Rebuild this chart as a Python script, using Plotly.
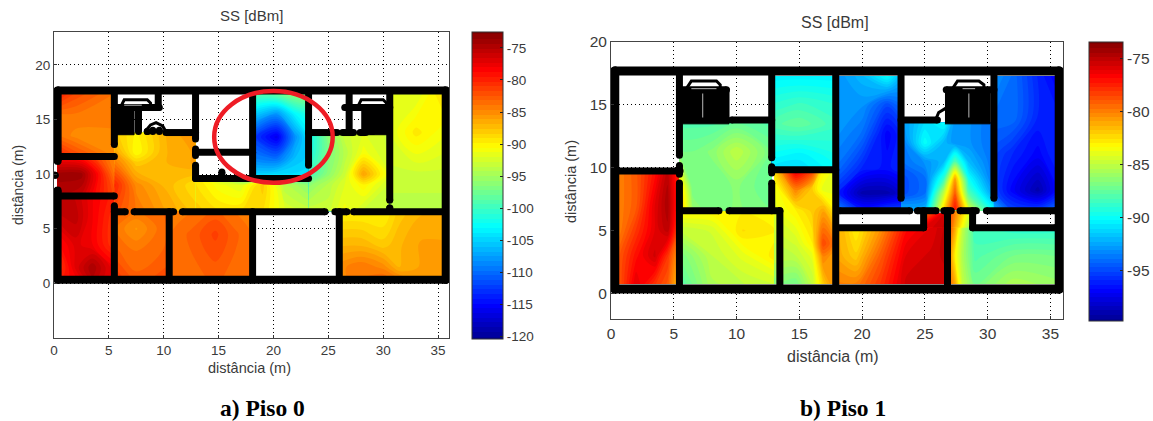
import plotly.graph_objects as go

W, H = 1153, 421
FONT = "Liberation Sans"
TXT = "#3a3a3a"
JET = [[0, "#00008f"], [0.11, "#0000ff"], [0.365, "#00ffff"], [0.625, "#ffff00"], [0.875, "#ff0000"], [1, "#800000"]]

# ---------- Piso 0: measured signal by room (x, y, z rows from bottom to top)
P0_A_X = [0.5, 2, 5.5]
P0_A_Y = [11.8, 13.5, 15.5, 17.3]
P0_A_Z = [[-80, -82, -85], [-84, -85, -85], [-84, -84, -84], [-80, -82, -84]]
P0_B_X = [0.3, 2.5, 3.8, 5.5]
P0_B_Y = [8, 10, 11.7]
P0_B_Z = [[-75, -76, -79, -82], [-74, -74, -78, -84], [-79, -80, -82, -85]]
P0_C_X = [0.5, 2, 3.5, 5.5]
P0_C_Y = [0.6, 1.5, 3.5, 6, 8]
P0_C_Z = [[-80, -78, -75, -78], [-81, -77, -74.5, -78], [-79, -77, -78, -81],
          [-76, -75.5, -78, -81], [-75, -76, -78, -80]]
P0_D1_X = [5.5, 7.5, 10, 12.9]
P0_D1_Y = [6.6, 9, 11, 12, 13.8]
P0_D1_Z = [[-82, -84, -86, -88], [-80, -85, -87, -89], [-84, -88, -87, -86],
           [-86, -90.5, -87, -86], [-88, -90, -87, -85]]
P0_D2_X = [12.4, 12.9, 15, 17, 19, 21, 23.2, 23.7]
P0_D2_Y = [6.6, 9, 9.6]
P0_D2_Z = [[-88, -88, -89, -89, -89, -92, -93, -93], [-89, -89, -91, -92, -88, -94, -96, -96],
           [-89, -89, -93, -98, -98, -99, -100, -100]]
P0_D3_X = [23.2, 25, 26.5, 28.2, 30.6]
P0_D3_Y = [6.6, 9, 10, 12, 13.8]
P0_D3_Z = [[-93, -93, -91, -93, -93], [-96, -94, -92, -90, -93], [-100, -96, -93, -86, -92],
           [-102, -97, -94, -91, -93], [-103, -96, -93, -92, -93]]
P0_E_X = [30.6, 33, 35.4]
P0_E_Y = [6.6, 10, 13.8, 17.3]
P0_E_Z = [[-94, -94, -94], [-93, -93, -93], [-92, -89.5, -91], [-92, -92, -89]]
P0_F_X = [5.5, 7.5, 10.5]
P0_F_Y = [0.6, 3, 5, 6.6]
P0_F_Z = [[-81, -83, -82], [-83, -84, -83], [-84, -85.5, -83], [-83, -84, -83]]
P0_G_X = [10.5, 12.5, 14.7, 16.5, 18.1]
P0_G_Y = [0.6, 4.5, 6.6]
P0_G_Z = [[-84, -83.5, -83, -83.5, -84], [-84, -83, -81.5, -83, -84], [-84, -84, -83, -84, -84]]
P0_H_X = [26, 28, 30, 31.5, 33.5, 35.4]
P0_H_Y = [0.6, 1.5, 3.5, 6.6]
P0_H_Z = [[-85, -84, -83.5, -85, -86, -86], [-85, -84, -85, -87, -86, -86],
          [-87, -87, -88, -87, -86, -86], [-90, -90, -90, -88, -87, -87]]
P0_I_X = [18.1, 20.3, 22, 23.2]
P0_I_Y = [9.6, 11.5, 13.4, 15.5, 17.3]
P0_I_Z = [[-104, -103, -104, -104], [-109, -110, -106, -105], [-112, -116, -108, -104],
          [-105, -108, -103, -101], [-99, -98, -96, -96]]
P0_ROOMS = [(P0_A_X, P0_A_Y, P0_A_Z), (P0_B_X, P0_B_Y, P0_B_Z), (P0_C_X, P0_C_Y, P0_C_Z),
            (P0_D2_X, P0_D2_Y, P0_D2_Z), (P0_D1_X, P0_D1_Y, P0_D1_Z), (P0_D3_X, P0_D3_Y, P0_D3_Z),
            (P0_E_X, P0_E_Y, P0_E_Z), (P0_F_X, P0_F_Y, P0_F_Z), (P0_G_X, P0_G_Y, P0_G_Z),
            (P0_H_X, P0_H_Y, P0_H_Z), (P0_I_X, P0_I_Y, P0_I_Z)]

# ---------- Piso 1
P1_A_X = [0.6, 2, 3.5, 4.5, 5.45]
P1_A_Y = [0.77, 3, 5, 7, 9.6]
P1_A_Z = [[-79, -76, -78, -79, -82], [-79, -77, -75.5, -78, -81], [-80, -78, -76, -75, -79],
          [-80, -79, -76, -74.5, -78], [-80, -79, -77, -75, -78]]
P1_B_X = [5.45, 6.5, 8, 10, 12.8]
P1_B_Y = [6.6, 8.5, 11.3, 13.6]
P1_B_Z = [[-81, -86, -87, -86.5, -87], [-82, -87, -87, -86.5, -87.5],
          [-87, -87, -86.5, -85, -87], [-88, -88, -88, -87.5, -88]]
P1_C_X = [5.45, 8, 10.5, 13.45]
P1_C_Y = [0.77, 3, 5, 6.6]
P1_C_Z = [[-88, -85.5, -85, -84.5], [-87, -85, -84, -82.5], [-85, -84.5, -82.5, -83], [-83, -83, -83, -83]]
P1_D_X = [12.8, 15, 17.9]
P1_D_Y = [9.85, 11, 13.5, 15, 17.3]
P1_D_Z = [[-91, -91, -90], [-90, -90.5, -89.5], [-88, -87.5, -88.5], [-89, -88.5, -89], [-90.5, -90.5, -90.5]]
P1_E_X = [13.0, 14.7, 16, 16.9, 17.9]
P1_E_Y = [0.77, 3, 4, 6.6, 8.3, 9.85]
P1_E_Z = [[-86.5, -87, -85, -82, -80], [-85, -85, -84, -80, -81], [-85, -84.5, -83, -78.5, -80],
          [-84, -83, -82, -81, -83], [-84, -80, -82, -84, -84], [-82, -76, -78, -83, -84]]
P1_F_X = [18.0, 20, 22, 23.1]
P1_F_Y = [6.6, 8, 10, 12.7, 15, 17.3]
P1_F_Z = [[-93, -96, -95, -95], [-96, -99, -99, -98], [-94, -96, -96.5, -96],
          [-93, -94, -97, -96], [-93, -93, -95, -94], [-93, -92, -90, -92]]
P1_G_X = [23.1, 25, 26.5, 27.4, 28.5, 30.5]
P1_G_Y = [6.6, 8, 9.2, 10.5, 12, 13.6]
P1_G_Z = [[-92, -92, -82, -77, -84, -90], [-95, -94, -85, -79, -88, -93], [-95, -94, -89, -81, -90, -94],
          [-94, -93, -92, -88, -92, -94], [-94, -90, -92, -93, -93, -94], [-93, -91, -90, -93, -93, -94]]
P1_H_X = [30.5, 32, 34, 35.35]
P1_H_Y = [6.6, 8.2, 11, 14, 17.3]
P1_H_Z = [[-92, -95, -95, -94], [-95, -97, -99, -97], [-95, -96, -97, -96],
          [-94, -94, -96, -96], [-93, -94, -96, -97]]
P1_I_X = [18.0, 19.5, 21.5, 23.5, 25.5, 26.8]
P1_I_Y = [0.77, 3, 5.25]
P1_I_Z = [[-80, -80, -78, -75.5, -75.5, -75.5], [-81, -82, -79, -76, -75.5, -75], [-81, -83, -80.5, -77, -76, -75]]
P1_J_X = [24.9, 26.8]
P1_J_Y = [5.25, 6.4]
P1_J_Z = [[-76, -75], [-80, -75]]
P1_K_X = [26.8, 27.4, 28, 29, 32, 35.35]
P1_K_Y = [0.77, 3, 5.25]
P1_K_Z = [[-79, -81, -85, -87, -85.5, -86], [-79, -83, -85.5, -88, -87, -87], [-78, -81, -85, -88.5, -89, -89]]
P1_L_X = [26.8, 27.4, 28.8]
P1_L_Y = [5.25, 6.6]
P1_L_Z = [[-78, -81, -87], [-78, -80, -85]]
P1_ROOMS = [(P1_A_X, P1_A_Y, P1_A_Z), (P1_B_X, P1_B_Y, P1_B_Z), (P1_C_X, P1_C_Y, P1_C_Z),
            (P1_D_X, P1_D_Y, P1_D_Z), (P1_E_X, P1_E_Y, P1_E_Z), (P1_F_X, P1_F_Y, P1_F_Z),
            (P1_G_X, P1_G_Y, P1_G_Z), (P1_H_X, P1_H_Y, P1_H_Z), (P1_I_X, P1_I_Y, P1_I_Z),
            (P1_J_X, P1_J_Y, P1_J_Z), (P1_K_X, P1_K_Y, P1_K_Z), (P1_L_X, P1_L_Y, P1_L_Z)]

# ---------- Floor plan walls: segments as (x0, y0, x1, y1)
P0_OUTER = [(0.33, 17.65, 35.7, 17.65), (35.7, 17.65, 35.7, 0.33), (35.7, 0.33, 0.33, 0.33),
            (0.33, 0.33, 0.33, 8.5), (0.33, 11.2, 0.33, 17.65)]
P0_WALLS = [(0.5, 11.6, 5.5, 11.6), (0.5, 8.0, 5.5, 8.0), (5.5, 17.6, 5.5, 12.7), (5.5, 7.1, 5.5, 0.3),
            (5.5, 6.55, 6.5, 6.55), (7.3, 6.55, 10.9, 6.55), (11.7, 6.55, 24.7, 6.55), (25.6, 6.55, 26.7, 6.55),
            (27.3, 6.55, 35.6, 6.55), (10.5, 6.55, 10.5, 0.3), (18.1, 6.55, 18.1, 0.3), (26.0, 6.55, 26.0, 0.3),
            (12.9, 17.6, 12.9, 13.2), (12.9, 12.3, 12.9, 11.7), (12.9, 10.8, 12.9, 9.6), (12.9, 9.6, 23.2, 9.6),
            (12.9, 12.0, 18.1, 12.0), (18.1, 17.6, 18.1, 9.6), (15.3, 10.2, 15.3, 9.6), (23.2, 17.6, 23.2, 10.8),
            (23.2, 13.8, 25.8, 13.8), (26.9, 17.6, 26.9, 13.8), (26.3, 13.8, 27.3, 13.8), (27.9, 13.8, 28.4, 13.8),
            (30.6, 17.6, 30.6, 7.6), (10.2, 13.8, 12.9, 13.8), (9.5, 17.6, 9.5, 16.1), (5.5, 16.1, 9.6, 16.1),
            (7.7, 16.1, 7.7, 13.9), (9.0, 14.0, 9.0, 13.9), (9.6, 14.0, 9.6, 13.9), (8.5, 13.9, 8.5, 13.9),
            (26.5, 16.1, 30.6, 16.1), (29.0, 13.9, 29.0, 13.9), (30.6, 6.9, 30.6, 6.9), (0.1, 9.9, 0.1, 9.9)]
P0_BLOCKS = [([5.6, 7.3, 7.3, 5.6], [13.6, 13.6, 16.2, 16.2]), ([28.0, 30.5, 30.5, 28.0], [13.6, 13.6, 16.2, 16.2])]
P0_THIN = [([6.1, 6.4, 8.5, 8.8, 8.8], [16.2, 16.8, 16.8, 16.5, 16.2]),
           ([27.7, 28.0, 30.0, 30.3, 30.3], [16.2, 16.8, 16.8, 16.5, 16.2]),
           ([8.3, 8.8, 9.3, 9.9, 10.2], [13.9, 14.5, 14.7, 14.4, 13.9])]
P0_GRAY = [([6.4, 8.0], [16.3, 16.3])]

P1_OUTER = [(0.3, 17.7, 35.7, 17.7), (35.7, 17.7, 35.7, 0.38), (35.7, 0.38, 0.3, 0.38), (0.3, 0.38, 0.3, 17.7)]
P1_WALLS = [(5.45, 17.6, 5.45, 11.0), (5.45, 10.2, 5.45, 9.5), (5.45, 8.8, 5.45, 0.4), (0.4, 9.75, 5.5, 9.75),
            (12.8, 17.6, 12.8, 10.8), (12.8, 10.1, 12.8, 9.6), (12.8, 8.8, 12.8, 6.6), (12.8, 9.85, 17.9, 9.85),
            (17.9, 17.6, 17.9, 0.4), (13.45, 6.6, 13.45, 0.4), (5.45, 6.6, 8.6, 6.6), (9.4, 6.6, 13.45, 6.6),
            (9.6, 13.8, 12.8, 13.8), (23.1, 17.6, 23.1, 7.6), (23.1, 13.8, 26.0, 13.8), (30.5, 17.6, 30.5, 7.6),
            (18.2, 6.6, 23.8, 6.6), (24.4, 6.6, 25.9, 6.6), (26.5, 6.6, 27.1, 6.6), (27.8, 6.6, 29.1, 6.6),
            (29.9, 6.6, 35.4, 6.6), (18.0, 5.25, 24.9, 5.25), (24.9, 6.6, 24.9, 5.25), (28.8, 6.6, 28.8, 5.25),
            (28.8, 5.25, 35.4, 5.25), (26.8, 6.6, 26.8, 0.4), (5.45, 16.2, 9.2, 16.2), (26.7, 16.2, 30.5, 16.2)]
P1_BLOCKS = [([5.6, 9.4, 9.4, 5.6], [13.5, 13.5, 16.3, 16.3]), ([26.6, 30.2, 30.2, 26.6], [13.5, 13.5, 16.3, 16.3])]
P1_THIN = [([6.0, 6.4, 8.4, 8.7, 8.7], [16.3, 16.9, 16.9, 16.6, 16.3]),
           ([27.2, 27.6, 29.3, 29.7, 29.7], [16.3, 16.9, 16.9, 16.6, 16.3]),
           ([25.8, 26.1, 26.6, 26.8], [13.7, 14.4, 14.7, 14.5])]
P1_GRAY = [([6.4, 8.4], [16.3, 16.3]), ([7.3, 7.3], [15.9, 14.0]), ([28.0, 29.0], [16.3, 16.3]), ([28.5, 28.5], [15.9, 14.0])]

# ---------- Highlight ellipse on Piso 0 (data units)
CIRCLE_X = [14.6, 25.4]
CIRCLE_Y = [9.2, 17.6]

TICKS_X = [0, 5, 10, 15, 20, 25, 30, 35]
TICKS_Y0 = [0, 5, 10, 15, 20]
CB0_TICKS = [-75, -80, -85, -90, -95, -100, -105, -110, -115, -120]
CB1_TICKS = [-75, -80, -85, -90, -95]
CB0_RANGE = [-120, -72.9]
CB1_RANGE = [-99.6, -73.6]


def seg_lists(segs):
    xs, ys = [], []
    for a, b, c, d in segs:
        xs += [a, c, None]
        ys += [b, d, None]
    return xs, ys


fig = go.Figure()


def add_floor(rooms, outer, walls, blocks, thin, gray, axis, caxis, crange, outer_w, wall_w):
    xa, ya = "x" + axis, "y" + axis
    step = (crange[1] - crange[0]) / 64
    for x, y, z in rooms:
        fig.add_trace(go.Contour(x=x, y=y, z=z, xaxis=xa, yaxis=ya, coloraxis=caxis, autocontour=False,
                                 contours=dict(coloring="fill", start=crange[0], end=crange[1], size=step, showlines=False),
                                 line=dict(width=0), hoverinfo="skip", showlegend=False))
    for bx, by in blocks:
        fig.add_trace(go.Scatter(x=bx, y=by, xaxis=xa, yaxis=ya, mode="lines", fill="toself", fillcolor="black",
                                 line=dict(color="black", width=1), hoverinfo="skip", showlegend=False))
    for px, py in thin:
        fig.add_trace(go.Scatter(x=px, y=py, xaxis=xa, yaxis=ya, mode="lines", line=dict(color="black", width=3),
                                 hoverinfo="skip", showlegend=False))
    for segs, w in ((walls, wall_w), (outer, outer_w)):
        sx, sy = seg_lists(segs)
        fig.add_trace(go.Scatter(x=sx, y=sy, xaxis=xa, yaxis=ya, mode="lines+markers",
                                 line=dict(color="black", width=w), marker=dict(color="black", size=w),
                                 hoverinfo="skip", showlegend=False))
    for px, py in gray:
        fig.add_trace(go.Scatter(x=px, y=py, xaxis=xa, yaxis=ya, mode="lines", line=dict(color="#9a9a9a", width=1.2),
                                 hoverinfo="skip", showlegend=False))


add_floor(P0_ROOMS, P0_OUTER, P0_WALLS, P0_BLOCKS, P0_THIN, P0_GRAY, "", "coloraxis", CB0_RANGE, 8, 7)
add_floor(P1_ROOMS, P1_OUTER, P1_WALLS, P1_BLOCKS, P1_THIN, P1_GRAY, "2", "coloraxis2", CB1_RANGE, 9, 7)


def axis(domain, rng, ticks, anchor, size):
    return dict(domain=domain, range=rng, tickvals=ticks, ticks="inside", ticklen=3, tickcolor="#333",
                showgrid=True, griddash="1px,3px", gridcolor="black", gridwidth=1, zeroline=False, showline=True,
                linecolor="#444", linewidth=1, mirror=True, anchor=anchor,
                tickfont=dict(family=FONT, size=size, color=TXT))


def cbar(x, top, length, thick, ticks, size):
    return dict(x=x / W, xanchor="left", y=1 - top / H, yanchor="top", len=length / H, lenmode="fraction",
                thickness=thick, thicknessmode="pixels", xpad=0, ypad=0, outlinecolor="#333", outlinewidth=1,
                ticks="inside", ticklen=3, tickcolor="#222", tickvals=ticks, ticktext=[str(t) for t in ticks],
                tickfont=dict(family=FONT, size=size, color=TXT))


def label(text, x, y, family, size, color=TXT, angle=0):
    return dict(text=text, x=x / W, y=1 - y / H, xref="paper", yref="paper", showarrow=False, textangle=angle,
                xanchor="center", yanchor="middle", font=dict(family=family, size=size, color=color))


fig.update_layout(
    width=W, height=H, margin=dict(l=0, r=0, t=0, b=0, autoexpand=False), paper_bgcolor="white", plot_bgcolor="white",
    showlegend=False,
    xaxis=axis([54 / W, 449 / W], [0, 36], TICKS_X, "y", 13.5),
    yaxis=axis([1 - 338 / H, 1 - 32 / H], [-5, 23], TICKS_Y0, "x", 13.5),
    xaxis2=axis([611 / W, 1063 / W], [0, 36], TICKS_X, "y2", 15.5),
    yaxis2=axis([1 - 319 / H, 1 - 42 / H], [-2, 20], TICKS_Y0, "x2", 15.5),
    coloraxis=dict(colorscale=JET, cmin=CB0_RANGE[0], cmax=CB0_RANGE[1], colorbar=cbar(472, 32, 307, 31, CB0_TICKS, 13.5)),
    coloraxis2=dict(colorscale=JET, cmin=CB1_RANGE[0], cmax=CB1_RANGE[1], colorbar=cbar(1089, 42, 279, 34, CB1_TICKS, 15.5)),
    shapes=[dict(type="circle", xref="x", yref="y", x0=CIRCLE_X[0], x1=CIRCLE_X[1], y0=CIRCLE_Y[0], y1=CIRCLE_Y[1],
                 line=dict(color="#ee1c25", width=4.5), layer="above")],
    annotations=[
        label("SS [dBm]", 251, 15.5, FONT, 15),
        label("SS [dBm]", 835, 23, FONT, 16),
        label("distância (m)", 249, 368, FONT, 14.5),
        label("distância (m)", 833, 356, FONT, 16),
        label("distância (m)", 18, 185, FONT, 14, angle=-90),
        label("distância (m)", 571, 182, FONT, 14.5, angle=-90),
        label("<b>a) Piso 0</b>", 262, 408, "Liberation Serif", 23.5, "black"),
        label("<b>b) Piso 1</b>", 843, 408, "Liberation Serif", 23.5, "black"),
    ],
)
fig.write_html("out.html", post_script="document.body.style.margin='0';", config={"displayModeBar": False})
